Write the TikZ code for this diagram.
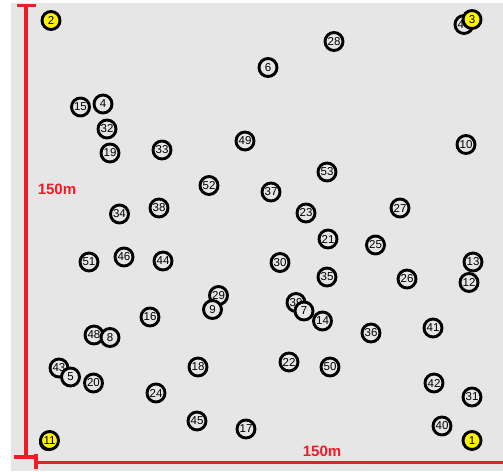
\documentclass[tikz,border=0pt]{standalone}
\usepackage{fontspec}
\setsansfont{Liberation Sans}
\usepackage{xcolor}
\usetikzlibrary{positioning}

\definecolor{fieldgray}{HTML}{E6E6E6}
\definecolor{scalered}{HTML}{EE1C24}
\definecolor{depotyellow}{HTML}{FFF200}

\begin{document}
\begin{tikzpicture}[
  x=1pt, y=-1pt,
  site/.style={draw, circle, line width=2.9pt, minimum size=18pt, inner sep=0pt,
    fill=fieldgray, font=\sffamily\fontsize{11.5}{11.5}\selectfont},
  depot/.style={site, fill=depotyellow},
  scalebar/.style={draw=scalered, line width=3.5pt},
  scalelabel/.style={text=scalered, font=\sffamily\bfseries\fontsize{15}{15}\selectfont}
]
\useasboundingbox (0,0) rectangle (503,471);
\fill[white] (0,0) rectangle (503,471);
\fill[fieldgray] (11,2.5) rectangle (503,471);

% scale bars
\coordinate (vtop) at (26,5.5);
\coordinate (vbot) at (26,457);
\coordinate (hleft) at (36,462.5);
\coordinate (hright) at (503,462.5);
\draw[scalebar] (vtop) -- (vbot);
\draw[scalebar] ([xshift=-9pt]vtop) -- ([xshift=10pt]vtop);
\draw[scalebar] ([xshift=-12pt]vbot) -- ([xshift=10pt]vbot);
\draw[scalebar] (hleft) -- (hright);
\draw[scalebar] ([yshift=-6.5pt]hleft) -- ([yshift=8.5pt]hleft);
\node[scalelabel] (vlabel) at (57,189) {150m};
\node[scalelabel] (hlabel) at (322,451) {150m};

% customer sites
\node[site] (n4) at (103,104) {4};
\node[site] (n15) at (80.5,107) {15};
\node[site] (n32) at (107,129) {32};
\node[site] (n19) at (110,153) {19};
\node[site] (n33) at (162,150) {33};
\node[site] (n6) at (268,67.5) {6};
\node[site] (n28) at (334,41.5) {28};
\node[site] (n49) at (245,141) {49};
\node[site] (n47) at (464,24.5) {47};
\node[site] (n10) at (466,144.5) {10};
\node[site] (n34) at (119.5,214) {34};
\node[site] (n38) at (159,208) {38};
\node[site] (n51) at (89,262) {51};
\node[site] (n46) at (124,257) {46};
\node[site] (n44) at (163,261) {44};
\node[site] (n52) at (209,185.5) {52};
\node[site] (n37) at (271,192) {37};
\node[site] (n53) at (327,172) {53};
\node[site] (n23) at (306,213) {23};
\node[site] (n21) at (328,239) {21};
\node[site] (n30) at (280,262.5) {30};
\node[site] (n35) at (327,277) {35};
\node[site] (n29) at (218.5,295.5) {29};
\node[site] (n9) at (212.5,309.5) {9};
\node[site] (n39) at (296,302.5) {39};
\node[site] (n7) at (304,311) {7};
\node[site] (n14) at (322.5,321) {14};
\node[site] (n27) at (400,208) {27};
\node[site] (n25) at (375.5,245) {25};
\node[site] (n26) at (407,279) {26};
\node[site] (n13) at (473,262) {13};
\node[site] (n12) at (469,282.5) {12};
\node[site] (n16) at (150,317) {16};
\node[site] (n48) at (94,335) {48};
\node[site] (n8) at (110,337.5) {8};
\node[site] (n43) at (59,368) {43};
\node[site] (n5) at (70.5,377) {5};
\node[site] (n20) at (93.5,383) {20};
\node[site] (n24) at (156,393) {24};
\node[site] (n18) at (198,367) {18};
\node[site] (n22) at (289,362) {22};
\node[site] (n50) at (330,367) {50};
\node[site] (n45) at (197,421) {45};
\node[site] (n17) at (246,429) {17};
\node[site] (n36) at (371,333) {36};
\node[site] (n41) at (433,328) {41};
\node[site] (n42) at (434,383) {42};
\node[site] (n31) at (472,397) {31};
\node[site] (n40) at (442,426) {40};

% depots
\node[depot] (n2) at (51,20.5) {2};
\node[depot] (n3) at (472,19.5) {3};
\node[depot] (n1) at (472,440.5) {1};
\draw[line width=2.9pt] (48,442) circle (7.6pt);
\node[depot] (n11) at (49.5,440.5) {11};
\end{tikzpicture}
\end{document}
